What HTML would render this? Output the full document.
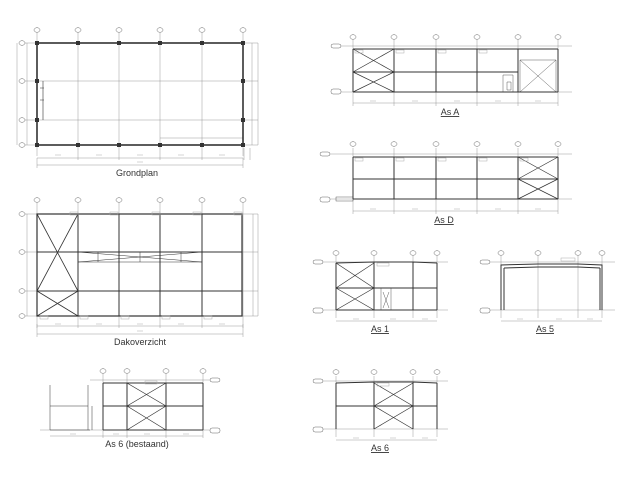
<!DOCTYPE html>
<html><head><meta charset="utf-8"><style>
html,body{margin:0;padding:0;background:#fff;}
svg{display:block}
text{font-family:"Liberation Sans",sans-serif;fill:#333}
</style></head><body>
<svg width="640" height="480" viewBox="0 0 640 480" xmlns="http://www.w3.org/2000/svg">
<rect width="640" height="480" fill="#fff"/>
<g fill="none" stroke="#999" stroke-width="0.5">
<!-- Grondplan grid -->
<path d="M37,33V156M78,33V156M119,33V156M160,33V156M202,33V156M243,33V156"/>
<path d="M22,43H258M22,81H258M22,120H258M22,145H258"/>
<path d="M37,158H243M37,165H243M37,158V168M243,158V168M78,156V160M119,156V160M160,156V160M202,156V160"/>
<path d="M17,43V145M27,43V145M252,43V145M258,43V145M160,138H243M244,148V160M250,148V160"/>
<!-- Dakoverzicht grid -->
<path d="M37,203V328M78,203V328M119,203V328M160,203V328M202,203V328M243,203V328"/>
<path d="M22,214H258M22,252H258M22,291H258M22,316H258"/>
<path d="M37,326H243M37,334H243M37,324V337M243,324V337"/>
<path d="M253,214V316M258,214V316M27,214V316"/>
<!-- As A -->
<path d="M353,40V100M394,40V100M436,40V100M477,40V100M518,40V100M558,40V100"/>
<path d="M336,46H572M336,92H572M353,103H558M353,100V106M394,100V106M436,100V106M477,100V106M518,100V106M558,100V106"/>
<!-- As D -->
<path d="M353,148V208M394,148V208M436,148V208M477,148V208M518,148V208M558,148V208"/>
<path d="M325,154H572M325,199H572M353,211H558M353,208V214M394,208V214M436,208V214M477,208V214M518,208V214M558,208V214"/>
<!-- As 1 -->
<path d="M336,256V318M374,256V318M413,256V318M437,256V318M316,262H448M316,310H448M336,321H437"/>
<!-- As 5 -->
<path d="M501,256V318M538,256V318M578,256V318M602,256V318M483,262H615M483,310H615M501,321H602"/>
<!-- As 6 -->
<path d="M336,376V437M374,376V437M413,376V437M437,376V437M316,381H448M316,429H448M336,440H437"/>
<!-- As 6 bestaand -->
<path d="M103,374V438M127,374V438M166,374V438M203,374V438M90,380H220M40,430H220M50,436H203"/>
</g>
<!-- grid bubbles -->
<g fill="#fff" stroke="#666" stroke-width="0.5">
<g id="b1"><ellipse cx="37" cy="30" rx="3" ry="2.3"/><ellipse cx="78" cy="30" rx="3" ry="2.3"/><ellipse cx="119" cy="30" rx="3" ry="2.3"/><ellipse cx="160" cy="30" rx="3" ry="2.3"/><ellipse cx="202" cy="30" rx="3" ry="2.3"/><ellipse cx="243" cy="30" rx="3" ry="2.3"/></g>
<ellipse cx="22" cy="43" rx="3" ry="2.3"/><ellipse cx="22" cy="81" rx="3" ry="2.3"/><ellipse cx="22" cy="120" rx="3" ry="2.3"/><ellipse cx="22" cy="145" rx="3" ry="2.3"/>
<ellipse cx="37" cy="200" rx="3" ry="2.3"/><ellipse cx="78" cy="200" rx="3" ry="2.3"/><ellipse cx="119" cy="200" rx="3" ry="2.3"/><ellipse cx="160" cy="200" rx="3" ry="2.3"/><ellipse cx="202" cy="200" rx="3" ry="2.3"/><ellipse cx="243" cy="200" rx="3" ry="2.3"/>
<ellipse cx="22" cy="214" rx="3" ry="2.3"/><ellipse cx="22" cy="252" rx="3" ry="2.3"/><ellipse cx="22" cy="291" rx="3" ry="2.3"/><ellipse cx="22" cy="316" rx="3" ry="2.3"/>
<ellipse cx="353" cy="37" rx="3" ry="2.3"/><ellipse cx="394" cy="37" rx="3" ry="2.3"/><ellipse cx="436" cy="37" rx="3" ry="2.3"/><ellipse cx="477" cy="37" rx="3" ry="2.3"/><ellipse cx="518" cy="37" rx="3" ry="2.3"/><ellipse cx="558" cy="37" rx="3" ry="2.3"/>
<ellipse cx="353" cy="144" rx="3" ry="2.3"/><ellipse cx="394" cy="144" rx="3" ry="2.3"/><ellipse cx="436" cy="144" rx="3" ry="2.3"/><ellipse cx="477" cy="144" rx="3" ry="2.3"/><ellipse cx="518" cy="144" rx="3" ry="2.3"/><ellipse cx="558" cy="144" rx="3" ry="2.3"/>
<ellipse cx="336" cy="253" rx="3" ry="2.3"/><ellipse cx="374" cy="253" rx="3" ry="2.3"/><ellipse cx="413" cy="253" rx="3" ry="2.3"/><ellipse cx="437" cy="253" rx="3" ry="2.3"/>
<ellipse cx="501" cy="253" rx="3" ry="2.3"/><ellipse cx="538" cy="253" rx="3" ry="2.3"/><ellipse cx="578" cy="253" rx="3" ry="2.3"/><ellipse cx="602" cy="253" rx="3" ry="2.3"/>
<ellipse cx="336" cy="372" rx="3" ry="2.3"/><ellipse cx="374" cy="372" rx="3" ry="2.3"/><ellipse cx="413" cy="372" rx="3" ry="2.3"/><ellipse cx="437" cy="372" rx="3" ry="2.3"/>
<ellipse cx="103" cy="371" rx="3" ry="2.3"/><ellipse cx="127" cy="371" rx="3" ry="2.3"/><ellipse cx="166" cy="371" rx="3" ry="2.3"/><ellipse cx="203" cy="371" rx="3" ry="2.3"/>
<!-- level tags -->
<rect x="331" y="44" width="10" height="4" rx="2"/><rect x="331" y="89" width="10" height="5" rx="2"/>
<rect x="320" y="152" width="10" height="4" rx="2"/><rect x="320" y="197" width="10" height="5" rx="2"/>
<rect x="313" y="260" width="10" height="4" rx="2"/><rect x="313" y="308" width="10" height="5" rx="2"/>
<rect x="480" y="260" width="10" height="4" rx="2"/><rect x="480" y="308" width="10" height="5" rx="2"/>
<rect x="313" y="379" width="10" height="4" rx="2"/><rect x="313" y="427" width="10" height="5" rx="2"/>
<rect x="210" y="378" width="10" height="4" rx="2"/><rect x="210" y="428" width="10" height="5" rx="2"/>
</g>
<!-- structure -->
<g fill="none" stroke="#333" stroke-width="1">
<!-- Grondplan -->
<rect x="37" y="43" width="206" height="102" stroke-width="1.6"/>
<path d="M43,81V120M40,88H44M40,100H44" stroke-width="0.6"/>
<!-- Dakoverzicht -->
<rect x="37" y="214" width="205" height="102" stroke-width="1.2"/>
<path d="M78,214V316M119,214V316M160,214V316M202,214V316M37,252H242M37,291H242"/>
<path d="M37,214L78,291M78,214L37,291M37,291L78,316M78,291L37,316" stroke-width="0.8"/>
<path d="M78,262H202M98,252V262M140,252V262M181,252V262M78,252L202,262M78,262L202,252" stroke-width="0.5"/>
<!-- As A -->
<path d="M353,49H558M353,72H518M353,49V92M394,49V92M436,49V92M477,49V92M518,49V92M558,49V92M353,92H558" />
<path d="M353,49L394,72M394,49L353,72M353,72L394,92M394,72L353,92" stroke-width="0.7"/>
<path d="M520,60H556M520,60V92M556,60V92M520,60L556,92M556,60L520,92" stroke-width="0.4"/>
<path d="M503,75H513V92H503Z M507,82H511V90H507Z" stroke-width="0.4"/>
<!-- As D -->
<path d="M353,157H558M353,179H558M353,199H558M353,157V199M394,157V199M436,157V199M477,157V199M518,157V199M558,157V199"/>
<path d="M518,157L558,179M558,157L518,179M518,179L558,199M558,179L518,199" stroke-width="0.7"/>
<rect x="336" y="197" width="17" height="4" stroke-width="0.4"/>
<!-- As 1 -->
<path d="M336,263L374,262L413,262L437,263M336,263V310M374,262V310M413,262V310M437,263V310M336,288H437M336,310H437"/>
<path d="M336,263L374,288M374,263L336,288M336,288L374,310M374,288L336,310" stroke-width="0.7"/>
<path d="M381,288H391V310H381ZM383,292L389,308M389,292L383,308" stroke-width="0.4"/>
<!-- As 5 -->
<path d="M501,310V265L538,264L578,264L602,265V310M504,268L538,267L578,267L600,268M504,310V268M600,310V268" />
<!-- As 6 -->
<path d="M336,383L374,382L413,382L437,383M336,383V429M374,382V429M413,382V429M437,383V429M336,406H437"/>
<path d="M374,383L413,406M413,383L374,406M374,406L413,429M413,406L374,429" stroke-width="0.7"/>
<!-- As 6 bestaand -->
<path d="M103,383H203M103,383V430M127,383V430M166,383V430M203,383V430M103,406H203M103,430H203"/>
<path d="M127,383L166,406M166,383L127,406M127,406L166,430M166,406L127,430" stroke-width="0.7"/>
<path d="M50,385V430M88,385V430M92,406V430M50,406H88M50,430H90" stroke-width="0.5"/>
</g>
<!-- column dots -->
<g fill="#333">
<rect x="35" y="41" width="4" height="4"/><rect x="76" y="41" width="4" height="4"/><rect x="117" y="41" width="4" height="4"/><rect x="158" y="41" width="4" height="4"/><rect x="200" y="41" width="4" height="4"/><rect x="241" y="41" width="4" height="4"/>
<rect x="35" y="143" width="4" height="4"/><rect x="76" y="143" width="4" height="4"/><rect x="117" y="143" width="4" height="4"/><rect x="158" y="143" width="4" height="4"/><rect x="200" y="143" width="4" height="4"/><rect x="241" y="143" width="4" height="4"/>
<rect x="35" y="79" width="4" height="4"/><rect x="35" y="118" width="4" height="4"/><rect x="241" y="79" width="4" height="4"/><rect x="241" y="118" width="4" height="4"/>
</g>
<!-- small label ticks -->
<g fill="none" stroke="#aaa" stroke-width="0.5">
<path d="M55,155h6M96,155h6M137,155h6M178,155h6M219,155h6M137,162h6M55,324h6M96,324h6M137,324h6M178,324h6M219,324h6M137,331h6"/>
<path d="M370,101h6M412,101h6M454,101h6M495,101h6M535,101h6M370,209h6M412,209h6M454,209h6M495,209h6M535,209h6"/>
<path d="M353,319h6M390,319h6M422,319h6M517,319h6M556,319h6M587,319h6M353,438h6M390,438h6M422,438h6"/>
<path d="M70,434h6M113,434h6M144,434h6M183,434h6"/>
<rect x="70" y="212" width="8" height="3"/><rect x="110" y="212" width="8" height="3"/><rect x="152" y="212" width="8" height="3"/><rect x="193" y="212" width="8" height="3"/><rect x="234" y="212" width="8" height="3"/>
<rect x="40" y="316" width="8" height="3"/><rect x="80" y="316" width="8" height="3"/><rect x="121" y="316" width="8" height="3"/><rect x="162" y="316" width="8" height="3"/><rect x="204" y="316" width="8" height="3"/>
<rect x="355" y="50" width="8" height="3"/><rect x="396" y="50" width="8" height="3"/><rect x="438" y="50" width="8" height="3"/><rect x="479" y="50" width="8" height="3"/>
<rect x="355" y="158" width="8" height="3"/><rect x="396" y="158" width="8" height="3"/><rect x="438" y="158" width="8" height="3"/><rect x="479" y="158" width="8" height="3"/><rect x="520" y="158" width="8" height="3"/>
<rect x="377" y="263" width="12" height="3"/><rect x="561" y="258" width="14" height="3"/><rect x="377" y="383" width="12" height="3"/><rect x="145" y="381" width="12" height="3"/>
</g>
<!-- titles -->
<g font-size="9" text-anchor="middle">
<text x="137" y="176">Grondplan</text>
<text x="140" y="345">Dakoverzicht</text>
<text x="450" y="115" text-decoration="underline">As A</text>
<text x="444" y="223" text-decoration="underline">As D</text>
<text x="380" y="332" text-decoration="underline">As 1</text>
<text x="545" y="332" text-decoration="underline">As 5</text>
<text x="380" y="451" text-decoration="underline">As 6</text>
<text x="137" y="447">As 6 (bestaand)</text>
</g>
</svg>
</body></html>
